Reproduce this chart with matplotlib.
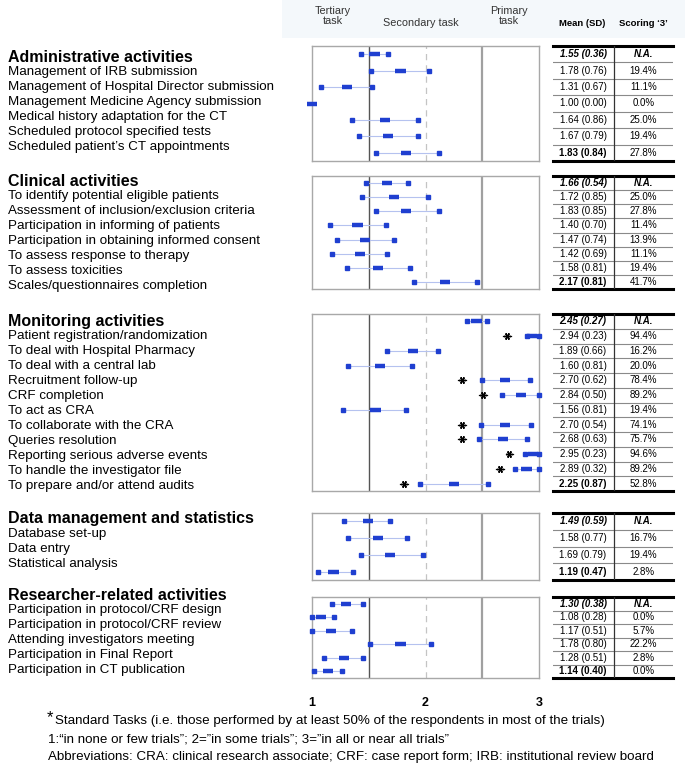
import matplotlib
matplotlib.use("Agg")
import matplotlib.pyplot as plt
from matplotlib.patches import Rectangle

plt.rcParams["font.family"] = ["Liberation Sans", "DejaVu Sans"]

W, H = 685, 777

# ---- data ----
ADMIN_LABELS = ["Administrative activities", "Management of IRB submission",
                "Management of Hospital Director submission",
                "Management Medicine Agency submission",
                "Medical history adaptation for the CT",
                "Scheduled protocol specified tests",
                "Scheduled patient\u2019s CT appointments"]
ADMIN_MEAN = [1.55, 1.78, 1.31, 1.00, 1.64, 1.67, 1.83]
ADMIN_SD = [0.36, 0.76, 0.67, 0.00, 0.86, 0.79, 0.84]
ADMIN_SCORE3 = ["N.A.", "19.4%", "11.1%", "0.0%", "25.0%", "19.4%", "27.8%"]
ADMIN_LO = [1.43, 1.52, 1.08, 1.00, 1.35, 1.41, 1.56]
ADMIN_HI = [1.67, 2.03, 1.53, 1.00, 1.93, 1.93, 2.12]
ADMIN_STD = [None] * 7

CLIN_LABELS = ["Clinical activities", "To identify potential eligible patients",
               "Assessment of inclusion/exclusion criteria",
               "Participation in informing of patients",
               "Participation in obtaining informed consent",
               "To assess response to therapy", "To assess toxicities",
               "Scales/questionnaires completion"]
CLIN_MEAN = [1.66, 1.72, 1.83, 1.40, 1.47, 1.42, 1.58, 2.17]
CLIN_SD = [0.54, 0.85, 0.85, 0.70, 0.74, 0.69, 0.81, 0.81]
CLIN_SCORE3 = ["N.A.", "25.0%", "27.8%", "11.4%", "13.9%", "11.1%", "19.4%", "41.7%"]
CLIN_LO = [1.48, 1.44, 1.56, 1.16, 1.22, 1.18, 1.31, 1.90]
CLIN_HI = [1.85, 2.02, 2.12, 1.65, 1.72, 1.66, 1.86, 2.45]
CLIN_STD = [None] * 8

MON_LABELS = ["Monitoring activities", "Patient registration/randomization",
              "To deal with Hospital Pharmacy", "To deal with a central lab",
              "Recruitment follow-up", "CRF completion", "To act as CRA",
              "To collaborate with the CRA", "Queries resolution",
              "Reporting serious adverse events", "To handle the investigator file",
              "To prepare and/or attend audits"]
MON_MEAN = [2.45, 2.94, 1.89, 1.60, 2.70, 2.84, 1.56, 2.70, 2.68, 2.95, 2.89, 2.25]
MON_SD = [0.27, 0.23, 0.66, 0.81, 0.62, 0.50, 0.81, 0.54, 0.63, 0.23, 0.32, 0.87]
MON_SCORE3 = ["N.A.", "94.4%", "16.2%", "20.0%", "78.4%", "89.2%", "19.4%",
              "74.1%", "75.7%", "94.6%", "89.2%", "52.8%"]
MON_LO = [2.37, 2.89, 1.66, 1.32, 2.50, 2.67, 1.27, 2.49, 2.47, 2.88, 2.79, 1.95]
MON_HI = [2.54, 3.00, 2.11, 1.88, 2.92, 3.00, 1.83, 2.93, 2.89, 3.00, 3.00, 2.55]
MON_STD = [None, 2.72, None, None, 2.32, 2.51, None, 2.32, 2.32, 2.74, 2.66, 1.81]

DATA_LABELS = ["Data management and statistics", "Database set-up", "Data entry",
               "Statistical analysis"]
DATA_MEAN = [1.49, 1.58, 1.69, 1.19]
DATA_SD = [0.59, 0.77, 0.79, 0.47]
DATA_SCORE3 = ["N.A.", "16.7%", "19.4%", "2.8%"]
DATA_LO = [1.28, 1.32, 1.43, 1.05]
DATA_HI = [1.69, 1.84, 1.98, 1.36]
DATA_STD = [None] * 4

RES_LABELS = ["Researcher-related activities", "Participation in protocol/CRF design",
              "Participation in protocol/CRF review", "Attending investigators meeting",
              "Participation in Final Report", "Participation in CT publication"]
RES_MEAN = [1.30, 1.08, 1.17, 1.78, 1.28, 1.14]
RES_SD = [0.38, 0.28, 0.51, 0.80, 0.51, 0.40]
RES_SCORE3 = ["N.A.", "0.0%", "5.7%", "22.2%", "2.8%", "0.0%"]
RES_LO = [1.18, 1.00, 1.00, 1.51, 1.11, 1.02]
RES_HI = [1.45, 1.19, 1.35, 2.05, 1.45, 1.26]
RES_STD = [None] * 6

# panel top/bottom and first label line, in pixels
SECTIONS = [
    (ADMIN_LABELS, ADMIN_MEAN, ADMIN_SD, ADMIN_SCORE3, ADMIN_LO, ADMIN_HI, ADMIN_STD, 46, 161, 57),
    (CLIN_LABELS, CLIN_MEAN, CLIN_SD, CLIN_SCORE3, CLIN_LO, CLIN_HI, CLIN_STD, 176, 289, 181),
    (MON_LABELS, MON_MEAN, MON_SD, MON_SCORE3, MON_LO, MON_HI, MON_STD, 314, 491, 321),
    (DATA_LABELS, DATA_MEAN, DATA_SD, DATA_SCORE3, DATA_LO, DATA_HI, DATA_STD, 513, 580, 519),
    (RES_LABELS, RES_MEAN, RES_SD, RES_SCORE3, RES_LO, RES_HI, RES_STD, 597, 678, 595),
]
LABEL_STEP = 15

BLUE = "#1f3fd0"
WHISK = "#b5c2ef"
PX_L, PX_R = 312, 539
TB_L, TB_R = 553, 673

fig = plt.figure(figsize=(W / 100, H / 100), dpi=100)


def fx(x):
    return x / W


def fy(y):
    return 1 - y / H


# faint header band
fig.patches.append(Rectangle((fx(282), fy(38)), fx(403), 38 / H, transform=fig.transFigure,
                             facecolor="#f4f8fb", edgecolor="none", zorder=0))

for labels, mean, sd, score3, lo, hi, std, top, bot, ltop in SECTIONS:
    n = len(labels)
    ax = fig.add_axes([fx(PX_L), fy(bot), (PX_R - PX_L) / W, (bot - top) / H])
    ax.set_xlim(1, 3)
    ax.set_ylim(n - 0.5, -0.5)
    ax.set_xticks([])
    ax.set_yticks([])
    for s in ax.spines.values():
        s.set_color("#a8a8a8")
        s.set_linewidth(1.0)
    ax.axvline(1.5, color="#555555", lw=1.0)
    ax.axvline(2.0, color="#c4c4c4", lw=0.9, ls=(0, (5, 4)))
    ax.axvline(2.5, color="#a0a0a0", lw=1.6)
    for i in range(n):
        if hi[i] > lo[i]:
            ax.plot([lo[i], hi[i]], [i, i], color=WHISK, lw=0.8, zorder=2)
            ax.plot([lo[i], hi[i]], [i, i], ls="none", marker="s", ms=2.4,
                    color=BLUE, clip_on=False, zorder=3)
        ax.plot([mean[i] - 0.045, mean[i] + 0.045], [i, i], color=BLUE, lw=3.2,
                solid_capstyle="butt", clip_on=False, zorder=4)
        if std[i] is not None:
            ax.plot([std[i] - 0.035, std[i] + 0.035], [i, i], color="black", lw=0.9, zorder=4)
            ax.plot([std[i]], [i], marker=(6, 2, 90), ms=5, mew=1.0, color="black", zorder=4)

    # row labels on the left
    for i, lab in enumerate(labels):
        if i == 0:
            fig.text(fx(8), fy(ltop), lab, ha="left", va="center", fontsize=11.5,
                     fontweight="bold")
        else:
            fig.text(fx(8), fy(ltop + i * LABEL_STEP), lab, ha="left", va="center",
                     fontsize=9.6)

    # mean (SD) / scoring table
    tax = fig.add_axes([fx(TB_L), fy(bot), (TB_R - TB_L) / W, (bot - top) / H])
    tax.set_xlim(0, 1)
    tax.set_ylim(n - 0.5, -0.5)
    tax.axis("off")
    tax.plot([0, 1], [-0.5, -0.5], color="black", lw=2.2, clip_on=False)
    tax.plot([0, 1], [n - 0.5, n - 0.5], color="black", lw=2.2, clip_on=False)
    for i in range(n - 1):
        tax.plot([0, 1], [i + 0.5, i + 0.5], color="#8a8a8a", lw=0.8)
    tax.plot([0.505, 0.505], [-0.5, n - 0.5], color="#333333", lw=0.9)
    for i in range(n):
        txt = f"{mean[i]:.2f} ({sd[i]:.2f})"
        if i == 0:
            kw = dict(fontweight="bold", fontstyle="italic")
            kw2 = kw
        elif i == n - 1:
            kw = dict(fontweight="bold")
            kw2 = {}
        else:
            kw, kw2 = {}, {}
        tax.text(0.25, i, txt, ha="center", va="center", fontsize=7, **kw)
        tax.text(0.755, i, score3[i], ha="center", va="center", fontsize=7, **kw2)

# header
fig.text(fx(333), fy(16), "Tertiary\ntask", ha="center", va="center", fontsize=7.8,
         color="#333333", linespacing=1.05)
fig.text(fx(421), fy(23), "Secondary task", ha="center", va="center", fontsize=7.8,
         color="#333333")
fig.text(fx(509), fy(16), "Primary\ntask", ha="center", va="center", fontsize=7.8,
         color="#333333", linespacing=1.05)
fig.text(fx(582), fy(23), "Mean (SD)", ha="center", va="center", fontsize=6.8,
         fontweight="bold")
fig.text(fx(643), fy(23), "Scoring \u20183\u2019", ha="center", va="center", fontsize=6.8,
         fontweight="bold")

# scale labels
for v in [1, 2, 3]:
    xpix = PX_L + (v - 1) / 2 * (PX_R - PX_L)
    fig.text(fx(xpix), fy(703), str(v), ha="center", va="center", fontsize=9,
             fontweight="bold")

# footnotes
fig.text(fx(47), fy(718), "*", ha="left", va="center", fontsize=12)
fig.text(fx(55), fy(721), "Standard Tasks (i.e. those performed by at least 50% of the "
         "respondents in most of the trials)", ha="left", va="center", fontsize=9.6)
fig.text(fx(48), fy(739), "1:\u201cin none or few trials\u201d; 2=\u201din some trials\u201d; "
         "3=\u201din all or near all trials\u201d", ha="left", va="center", fontsize=9.6)
fig.text(fx(48), fy(757), "Abbreviations: CRA: clinical research associate; CRF: case "
         "report form; IRB: institutional review board", ha="left", va="center",
         fontsize=9.6)

fig.savefig("out.png", dpi=100)
